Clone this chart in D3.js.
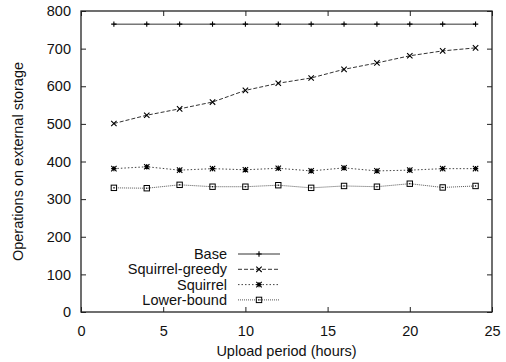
<!DOCTYPE html>
<html><head><meta charset="utf-8">
<script src="https://cdn.jsdelivr.net/npm/d3@7"></script>
<style>body{margin:0;background:#fff}svg{display:block}text{font-family:"Liberation Sans",Arial,sans-serif;font-size:14.5px;fill:#111}</style>
</head><body>
<script>
const periods = [2,4,6,8,10,12,14,16,18,20,22,24];
const base = [765,765,765,765,765,765,765,765,765,765,765,765];
const squirrelGreedy = [501,523,540,558,589,608,622,645,662,681,694,702];
const squirrel = [381,386,377,381,378,382,375,383,375,377,381,381];
const lowerBound = [330,329,338,333,333,337,330,335,333,341,331,335];
const seriesNames = ["Base","Squirrel-greedy","Squirrel","Lower-bound"];
const xTicks = [0,5,10,15,20,25];
const yTicks = [0,100,200,300,400,500,600,700,800];

const W=506,H=362;
const m={l:81,r:14,t:11,b:50};
const svg=d3.select("body").append("svg").attr("width",W).attr("height",H);
const x=d3.scaleLinear().domain([0,25]).range([m.l,W-m.r]);
const y=d3.scaleLinear().domain([0,800]).range([H-m.b,m.t]);
const stroke="#222";

const tl=5;
const gB=svg.append("g").attr("transform",`translate(0,${y(0)})`).call(d3.axisBottom(x).tickValues(xTicks).tickSize(-tl).tickPadding(tl+9));
const gT=svg.append("g").attr("transform",`translate(0,${y(800)})`).call(d3.axisTop(x).tickValues(xTicks).tickSize(-tl).tickFormat(""));
const gL=svg.append("g").attr("transform",`translate(${x(0)},0)`).call(d3.axisLeft(y).tickValues(yTicks).tickSize(-tl).tickPadding(tl+5));
const gR=svg.append("g").attr("transform",`translate(${x(25)},0)`).call(d3.axisRight(y).tickValues(yTicks).tickSize(-tl).tickFormat(""));
[gB,gT,gL,gR].forEach(g=>{g.select(".domain").remove();g.selectAll(".tick line").attr("stroke",stroke);g.selectAll("text").attr("font-size",null).attr("font-family",null).attr("fill","#111");});
svg.append("rect").attr("x",x(0)).attr("y",y(800)).attr("width",x(25)-x(0)).attr("height",y(0)-y(800)).attr("fill","none").attr("stroke",stroke).attr("stroke-width",1.3);

svg.append("text").attr("x",(x(0)+x(25))/2).attr("y",356).attr("text-anchor","middle").text("Upload period (hours)");
svg.append("text").attr("transform",`translate(23,${(y(0)+y(800))/2}) rotate(-90)`).attr("text-anchor","middle").text("Operations on external storage");

const styles=[
 {vals:base,dash:null,mark:"plus",color:"#333"},
 {vals:squirrelGreedy,dash:"4,2",mark:"cross",color:"#333"},
 {vals:squirrel,dash:"1.5,2",mark:"star",color:"#444"},
 {vals:lowerBound,dash:"1,1",mark:"square",color:"#555"}
];
function marker(g,mk,cx,cy){
  const s=2.7;
  if(mk==="plus"){g.append("path").attr("d",`M${cx-s},${cy}H${cx+s}M${cx},${cy-s}V${cy+s}`).attr("stroke","#000").attr("stroke-width",1.1);}
  else if(mk==="cross"){g.append("path").attr("d",`M${cx-s},${cy-s}L${cx+s},${cy+s}M${cx-s},${cy+s}L${cx+s},${cy-s}`).attr("stroke","#000").attr("stroke-width",1.1);}
  else if(mk==="star"){g.append("path").attr("d",`M${cx-s},${cy-s}L${cx+s},${cy+s}M${cx-s},${cy+s}L${cx+s},${cy-s}M${cx-s},${cy}H${cx+s}M${cx},${cy-s}V${cy+s}`).attr("stroke","#000").attr("stroke-width",1.1);}
  else {g.append("rect").attr("x",cx-s).attr("y",cy-s).attr("width",2*s).attr("height",2*s).attr("fill","none").attr("stroke","#000").attr("stroke-width",1);
        g.append("rect").attr("x",cx-0.6).attr("y",cy-0.6).attr("width",1.2).attr("height",1.2).attr("fill","#000");}
}
const line=d3.line().x(d=>x(d[0])).y(d=>y(d[1]));
styles.forEach(st=>{
  const pts=periods.map((p,i)=>[p,st.vals[i]]);
  const g=svg.append("g");
  g.append("path").attr("d",line(pts)).attr("fill","none").attr("stroke",st.color).attr("stroke-width",1).attr("stroke-dasharray",st.dash);
  pts.forEach(p=>marker(g,st.mark,x(p[0]),y(p[1])));
});

const lx0=238,lx1=280,tx=227,ly0=254,ldy=15.3;
seriesNames.forEach((n,i)=>{
  const yy=ly0+i*ldy;
  svg.append("text").attr("x",tx).attr("y",yy).attr("dy","0.35em").attr("text-anchor","end").text(n);
  const g=svg.append("g");
  g.append("line").attr("x1",lx0).attr("x2",lx1).attr("y1",yy).attr("y2",yy).attr("stroke",styles[i].color).attr("stroke-width",1).attr("stroke-dasharray",styles[i].dash);
  marker(g,styles[i].mark,(lx0+lx1)/2,yy);
});
</script>
</body></html>
